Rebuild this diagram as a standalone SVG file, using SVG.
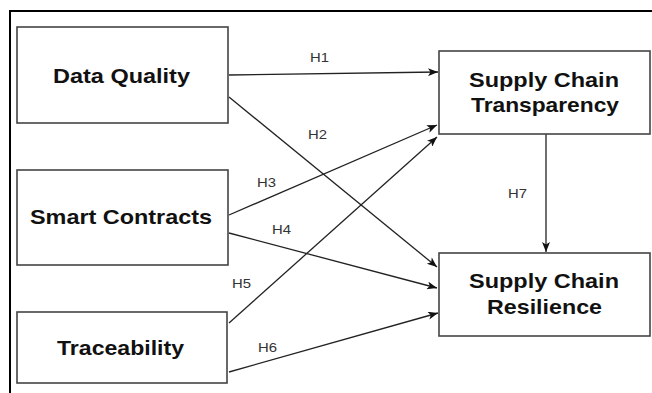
<svg xmlns="http://www.w3.org/2000/svg" width="652" height="393" viewBox="0 0 652 393">
<style>
.box{fill:#fff;stroke:#444;stroke-width:1.6}
.nt{font-family:"Liberation Sans",Arial,sans-serif;font-weight:bold;font-size:21px;fill:#111;text-anchor:middle}
.lb{font-family:"Liberation Sans",Arial,sans-serif;font-size:13px;fill:#333}
.ed{stroke:#222;stroke-width:1.3;fill:none;marker-end:url(#ah)}
</style>
<defs>
<marker id="ah" viewBox="0 0 10 8" refX="10" refY="4" markerWidth="11" markerHeight="8" markerUnits="userSpaceOnUse" orient="auto">
<path d="M0,0 L10,4 L0,8 L2.5,4 z" fill="#111"/>
</marker>
</defs>
<rect width="652" height="393" fill="#fff"/>
<path d="M10,393 L10,11 L652,11" fill="none" stroke="#000" stroke-width="2"/>
<g id="connectors">
<line class="ed" x1="229" y1="75" x2="438" y2="72"/>
<line class="ed" x1="229" y1="97" x2="437" y2="267"/>
<line class="ed" x1="229" y1="215" x2="437" y2="125"/>
<line class="ed" x1="229" y1="233" x2="437" y2="288"/>
<line class="ed" x1="229" y1="323" x2="437" y2="137"/>
<line class="ed" x1="229" y1="372" x2="438" y2="313"/>
<line class="ed" x1="546" y1="134" x2="546" y2="252"/>
<text class="lb" x="310" y="62" textLength="19" lengthAdjust="spacingAndGlyphs">H1</text>
<text class="lb" x="308" y="139" textLength="19" lengthAdjust="spacingAndGlyphs">H2</text>
<text class="lb" x="257" y="187" textLength="19" lengthAdjust="spacingAndGlyphs">H3</text>
<text class="lb" x="272" y="234" textLength="19" lengthAdjust="spacingAndGlyphs">H4</text>
<text class="lb" x="232" y="288" textLength="19" lengthAdjust="spacingAndGlyphs">H5</text>
<text class="lb" x="258" y="352" textLength="19" lengthAdjust="spacingAndGlyphs">H6</text>
<text class="lb" x="508" y="198" textLength="19" lengthAdjust="spacingAndGlyphs">H7</text>
</g>
<g id="data-quality">
<rect class="box" x="17" y="27" width="211" height="96"/>
<text class="nt" x="121.5" y="83" textLength="137" lengthAdjust="spacingAndGlyphs">Data Quality</text>
</g>
<g id="smart-contracts">
<rect class="box" x="17" y="170" width="211" height="95"/>
<text class="nt" x="121" y="224" textLength="182" lengthAdjust="spacingAndGlyphs">Smart Contracts</text>
</g>
<g id="traceability">
<rect class="box" x="17" y="312" width="210" height="71"/>
<text class="nt" x="120.5" y="355" textLength="127" lengthAdjust="spacingAndGlyphs">Traceability</text>
</g>
<g id="transparency">
<rect class="box" x="439" y="51" width="211" height="83"/>
<text class="nt" x="544" y="87" textLength="150" lengthAdjust="spacingAndGlyphs">Supply Chain</text>
<text class="nt" x="545" y="112" textLength="148" lengthAdjust="spacingAndGlyphs">Transparency</text>
</g>
<g id="resilience">
<rect class="box" x="439" y="253" width="211" height="83"/>
<text class="nt" x="544" y="288" textLength="150" lengthAdjust="spacingAndGlyphs">Supply Chain</text>
<text class="nt" x="544.5" y="314" textLength="115" lengthAdjust="spacingAndGlyphs">Resilience</text>
</g>
</svg>
